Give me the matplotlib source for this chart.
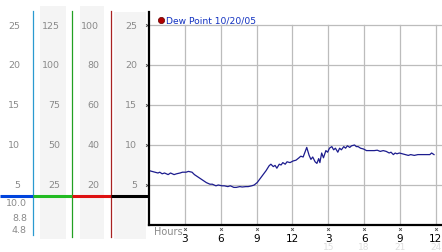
import matplotlib
matplotlib.use('Agg')
import matplotlib.pyplot as plt

# dew point readings, hours since midnight
hours = [0.0, 0.25, 0.5, 0.75, 0.9, 1.1, 1.3, 1.6, 1.8, 2.1, 2.3, 2.6, 2.8, 3.1,
         3.3, 3.6, 3.8, 4.1, 4.3, 4.6, 4.8, 5.1, 5.3, 5.6, 5.8, 6.1, 6.3, 6.6,
         6.8, 7.1, 7.3, 7.6, 7.8, 8.1, 8.3, 8.6, 8.8, 9.05, 9.3, 9.55, 9.8,
         10.05, 10.2, 10.4, 10.55, 10.7, 10.9, 11.05, 11.2, 11.4, 11.55, 11.8,
         12.05, 12.3, 12.55, 12.7, 12.9, 13.05, 13.2, 13.4, 13.55, 13.7, 13.9,
         14.05, 14.2, 14.3, 14.45, 14.6, 14.8, 14.95, 15.1, 15.3, 15.45, 15.6,
         15.8, 15.95, 16.1, 16.3, 16.45, 16.6, 16.8, 16.95, 17.2, 17.35, 17.5,
         17.7, 17.95, 18.2, 18.5, 18.85, 19.1, 19.35, 19.6, 19.85, 20.1, 20.25,
         20.45, 20.6, 20.75, 20.95, 21.2, 21.45, 21.7, 21.9, 22.2, 22.5, 22.85,
         23.2, 23.5, 23.65, 23.85]
dew = [6.8, 6.7, 6.6, 6.5, 6.6, 6.4, 6.5, 6.3, 6.5, 6.3, 6.4, 6.5, 6.6, 6.6,
       6.7, 6.6, 6.3, 6.0, 5.8, 5.5, 5.3, 5.1, 5.1, 4.9, 5.0, 4.9, 4.9, 4.8,
       4.9, 4.7, 4.7, 4.8, 4.75, 4.8, 4.8, 4.9, 5.0, 5.3, 5.8, 6.3, 6.8,
       7.4, 7.6, 7.3, 7.45, 7.1, 7.6, 7.5, 7.8, 7.6, 7.9, 7.8,
       8.0, 8.1, 8.4, 8.6, 8.5, 9.1, 9.7, 8.7, 8.2, 8.5, 7.9,
       7.7, 8.3, 7.8, 9.0, 8.4, 9.3, 9.1, 9.6, 9.8, 9.4, 9.6,
       9.1, 9.6, 9.4, 9.8, 9.6, 9.9, 9.7, 9.9, 10.0, 9.8, 9.8,
       9.6, 9.5, 9.3, 9.3, 9.3, 9.35, 9.2, 9.3, 9.2, 9.0, 9.1,
       8.8, 9.0, 8.9, 9.0, 8.9, 8.8, 8.7, 8.8, 8.7, 8.8, 8.8,
       8.8, 8.8, 9.0, 8.8]

grid_levels = [5, 10, 15, 20, 25]
col1_labels = ['5', '10', '15', '20', '25']
col2_labels = ['25', '50', '75', '100', '125']
col3_labels = ['20', '40', '60', '80', '100']
col4_labels = ['5', '10', '15', '20', '25']
low_labels = ['10.0', '8.8', '4.8']
low_levels = [2.75, 0.875, -0.625]
base_level = 3.625

xticks = [3, 6, 9, 12, 15, 18, 21, 24]
xticklabels = ['3', '6', '9', '12', '3', '6', '9', '12']
pm_labels = ['15', '18', '21', '24']

W, H = 442, 253
PX_PER_HOUR = 11.95
fig = plt.figure(figsize=(W / 100, H / 100), dpi=100)
fig.patch.set_facecolor('white')

# left panel: x in pixels, y shares the value scale of the main plot (8 px per unit)
left = fig.add_axes([0, 0, 149 / W, 1])
left.set_xlim(0, 149)
left.set_ylim(226 / 8 - H / 8, 226 / 8)
left.axis('off')

band_gray = '#f4f4f4'
for x0, x1, top in [(40, 66, 27.4), (80, 104, 27.4), (114, 146, 26.6)]:
    left.fill_between([x0, x1], -1.75, top, color=band_gray, lw=0, zorder=0)

lab_kw = dict(fontsize=6.8, color='#8a8a8a', va='center', ha='right')
for lv, a, b, c, d in zip(grid_levels, col1_labels, col2_labels, col3_labels, col4_labels):
    left.text(20, lv, a, **lab_kw)
    left.text(60, lv, b, **lab_kw)
    left.text(99, lv, c, **lab_kw)
    left.text(137, lv, d, **lab_kw)
    left.plot([146.5], [lv], marker='x', ms=2, mew=0.6, color='#444444', clip_on=False)
for lv, t in zip(low_levels, low_labels):
    left.text(27, lv, t, **lab_kw)

# colored scale dividers
left.plot([33, 33], [26.75, -1.25], color='#2a9ad0', lw=0.9)
left.plot([72, 72], [26.75, -1.5], color='#22a022', lw=0.9)
left.plot([111, 111], [26.75, -1.5], color='#a82222', lw=0.9)
left.plot([0, 33], [base_level, base_level], color='#0044dd', lw=2.2, solid_capstyle='butt')
left.plot([33, 72], [base_level, base_level], color='#22bb22', lw=2.2, solid_capstyle='butt')
left.plot([72, 111], [base_level, base_level], color='#dd1111', lw=2.2, solid_capstyle='butt')
left.plot([111, 149], [base_level, base_level], color='black', lw=2.2, solid_capstyle='butt')

# main plot
ax = fig.add_axes([149 / W, (H - 226) / H, 293 / W, 213 / H])
ax.set_xlim(0, 293 / PX_PER_HOUR)
ax.set_ylim(0, 213 / 8)
ax.set_facecolor('none')
for s in ['top', 'right']:
    ax.spines[s].set_visible(False)
ax.spines['left'].set_linewidth(1.6)
ax.spines['bottom'].set_linewidth(1.6)
ax.spines['left'].set_zorder(5)
ax.spines['bottom'].set_zorder(5)

for lv in grid_levels:
    ax.axhline(lv, color='#bcbcbc', lw=0.9, zorder=1)
for xt in xticks:
    ax.axvline(xt, ymax=25 / (213 / 8), color='#bcbcbc', lw=0.9, zorder=1)

ax.plot(hours, dew, color='#1c1c8e', lw=0.9, zorder=3)

ax.set_yticks([])
ax.set_xticks(xticks)
ax.set_xticklabels(xticklabels)
ax.tick_params(axis='x', length=0, pad=6, labelsize=7.6, labelcolor='black')
ax.plot(xticks, [-0.55] * len(xticks), ls='none', marker='x', ms=2, mew=0.6,
        color='#555555', clip_on=False)
for xt, t in zip(xticks[4:], pm_labels):
    ax.text(xt, -2.75, t, fontsize=6.5, color='#dedede', ha='center', va='center')
ax.text(0.45, -0.8, 'Hours', fontsize=7, color='#8a8a8a', ha='left', va='center')

# legend
ax.plot([1.0], [25.6], marker='o', ms=4.5, color='#b00000', mec='#600000', mew=0.5,
        clip_on=False, zorder=4)
ax.text(1.4, 25.6, 'Dew Point 10/20/05', fontsize=6.6, color='#1030c0',
        ha='left', va='center')

fig.savefig('out.png', dpi=100)
